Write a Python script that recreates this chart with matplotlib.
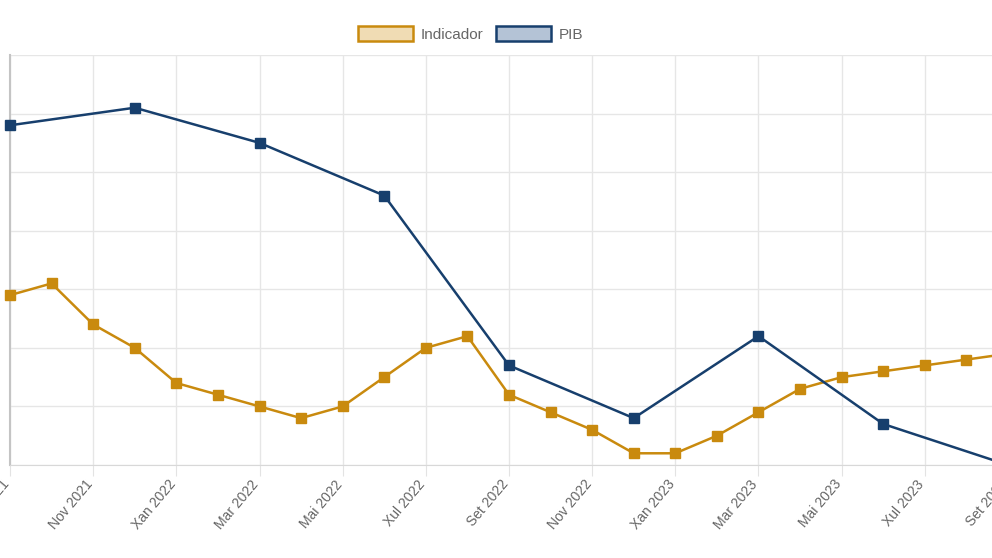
import matplotlib.pyplot as plt
from matplotlib.patches import Patch

# meses desde Set 2021 (índice 0) ata Set 2023 (índice 24)
meses_ind = list(range(25))
indicador = [2.9, 3.1, 2.4, 2.0, 1.4, 1.2, 1.0, 0.8, 1.0, 1.5, 2.0, 2.2,
             1.2, 0.9, 0.6, 0.2, 0.2, 0.5, 0.9, 1.3, 1.5, 1.6, 1.7, 1.8, 1.9]

meses_pib = [0, 3, 6, 9, 12, 15, 18, 21, 24]
pib = [5.8, 6.1, 5.5, 4.6, 1.7, 0.8, 2.2, 0.7, 0.0]

tick_pos = list(range(0, 25, 2))
tick_labels = ['Set 2021', 'Nov 2021', 'Xan 2022', 'Mar 2022', 'Mai 2022', 'Xul 2022',
               'Set 2022', 'Nov 2022', 'Xan 2023', 'Mar 2023', 'Mai 2023', 'Xul 2023',
               'Set 2023']

c_ind = '#c98a0e'
c_pib = '#173f6d'

plt.rcParams['font.family'] = ['Liberation Sans', 'DejaVu Sans']

fig = plt.figure(figsize=(9.92, 5.58), dpi=100)
ax = fig.add_axes([10 / 992, 93 / 558, 998 / 992, 410 / 558])

ax.plot(meses_ind, indicador, color=c_ind, lw=1.8, marker='s', ms=7.5,
        clip_on=False, zorder=3)
ax.plot(meses_pib, pib, color=c_pib, lw=1.8, marker='s', ms=7.5,
        clip_on=False, zorder=4)

ax.set_xlim(0, 24)
ax.set_ylim(0, 7)
ax.set_yticks(range(8))
ax.set_xticks(tick_pos)
ax.set_xticklabels(tick_labels, rotation=50, ha='right', va='baseline',
                   rotation_mode='anchor', fontsize=10, color='#666666')
ax.tick_params(axis='x', length=8, color='#e3e3e3', pad=6)
ax.tick_params(axis='y', labelleft=False, length=0)

ax.grid(True, color='#e6e6e6', lw=1)
ax.set_axisbelow(True)
for s in ['top', 'right']:
    ax.spines[s].set_visible(False)
ax.spines['left'].set_color('#c4c4c4')
ax.spines['left'].set_linewidth(1.5)
ax.spines['bottom'].set_color('#d8d8d8')

handles = [Patch(facecolor='#f0dcb4', edgecolor=c_ind, lw=1.8, label='Indicador'),
           Patch(facecolor='#b4c3d6', edgecolor=c_pib, lw=1.8, label='PIB')]
fig.legend(handles=handles, loc='center', bbox_to_anchor=(0.4743, 0.939), ncol=2,
           frameon=False, fontsize=11, labelcolor='#666666',
           handlelength=3.6, handleheight=1.05, handletextpad=0.5, columnspacing=0.8)

fig.savefig('out.png', dpi=100)
